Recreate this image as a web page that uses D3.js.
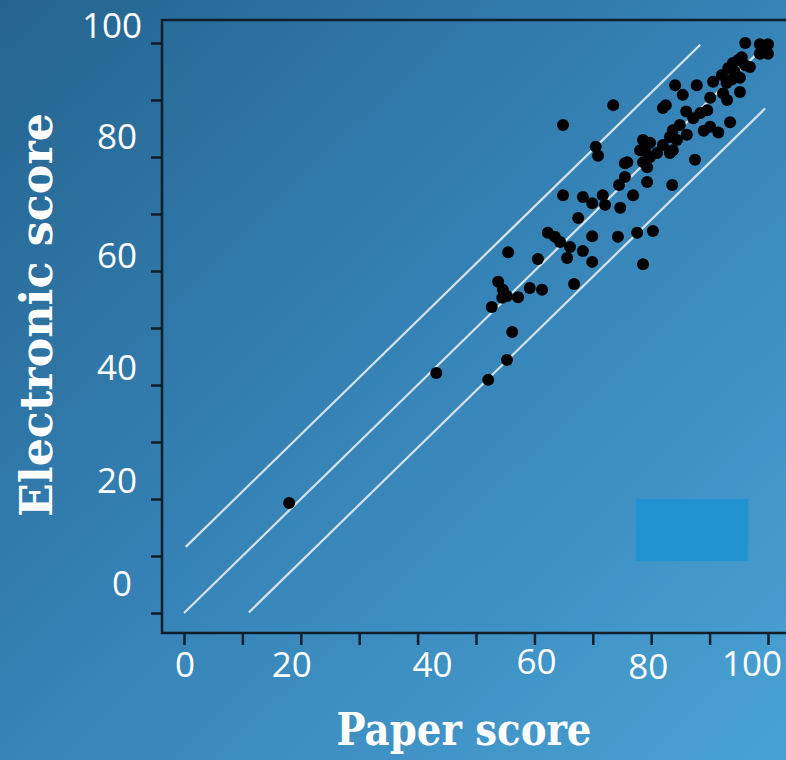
<!DOCTYPE html>
<html>
<head>
<meta charset="utf-8">
<script src="https://cdn.jsdelivr.net/npm/d3@7"></script>
<style>
  html, body { margin: 0; padding: 0; background: #2f78ab; }
  svg { display: block; }
</style>
</head>
<body>
<div id="chart"></div>
<script>
// paper score vs electronic score
const paperScores = [
  18.0, 43.2, 52.1, 55.3, 56.2, 52.7, 53.8, 54.6, 55.3, 54.5,
  57.2, 59.2, 61.3, 55.5, 60.6, 62.3, 63.5, 64.4, 66.1, 65.6,
  68.3, 69.9, 69.9, 66.8, 67.5, 64.9, 68.3, 69.9, 71.7, 72.1,
  74.7, 76.9, 74.5, 75.5, 79.3, 83.6, 75.5, 70.9, 70.5, 74.3,
  77.6, 80.3, 78.6, 64.9, 73.5, 78.1, 78.6, 75.9, 79.3, 79.0,
  79.8, 81.0, 78.6, 79.8, 82.0, 83.2, 84.4, 86.1, 83.7, 83.2,
  87.5, 84.9, 83.7, 87.2, 88.4, 89.6, 90.1, 93.5, 82.0, 82.5,
  84.1, 85.4, 87.8, 90.6, 90.1, 92.3, 93.0, 95.2, 92.1, 93.2,
  94.0, 94.9, 95.5, 96.1, 94.3, 95.2, 96.9, 96.1, 98.6, 100.0,
  98.6, 100.0, 99.3, 89.0, 91.5, 86.0, 93.8, 92.9, 99.6, 98.9
];
const electronicScores = [
  19.3, 42.1, 40.9, 44.4, 49.3, 53.7, 58.1, 56.7, 55.6, 55.3,
  55.4, 57.0, 56.7, 63.3, 62.1, 66.7, 66.0, 65.1, 64.2, 62.3,
  63.5, 61.6, 66.1, 57.7, 69.3, 73.3, 73.0, 71.9, 73.3, 71.6,
  71.1, 73.3, 75.1, 76.5, 75.6, 75.1, 78.9, 80.2, 81.8, 66.0,
  66.7, 67.0, 61.2, 85.6, 89.1, 81.2, 79.1, 79.1, 78.2, 81.0,
  80.0, 80.7, 83.0, 82.5, 82.1, 83.5, 83.0, 83.9, 81.2, 80.7,
  79.5, 85.6, 84.7, 86.8, 87.7, 88.2, 85.3, 86.1, 88.6, 89.1,
  92.6, 90.9, 92.6, 93.2, 90.4, 91.2, 90.0, 91.4, 94.4, 95.6,
  96.5, 97.0, 97.5, 96.1, 94.9, 93.9, 95.8, 100.0, 99.8, 99.8,
  98.1, 98.1, 98.9, 84.6, 84.3, 88.0, 93.6, 93.0, 99.2, 98.6
];
// agreement lines: y = x + offset, drawn between two paper scores
const refOffsets = [11.3, 0, -11];
const refStarts = [0.3, 0, 11.1];
const refEnds = [88.4, 100, 99.5];

const xTicks = d3.range(0, 101, 10);
const yTicks = d3.range(0, 101, 10);
const xLabels = [0, 20, 40, 60, 80, 100];
const yLabels = [0, 20, 40, 60, 80, 100];

// leftover blue box in the lower right (in data units)
const boxX = [77.4, 96.6];
const boxY = [9.1, 20];

function drawChart() {
  const W = 786, H = 760;
  const frame = { left: 162, top: 20, bottom: 633, right: 786 };

  const svg = d3
    .select("#chart")
    .append("svg")
    .attr("width", W)
    .attr("height", H);

  const defs = svg.append("defs");
  const grad = defs
    .append("linearGradient")
    .attr("id", "bg")
    .attr("x1", "0%").attr("y1", "0%")
    .attr("x2", "100%").attr("y2", "100%");
  grad.append("stop").attr("offset", "0%").attr("stop-color", "#25648f");
  grad.append("stop").attr("offset", "50%").attr("stop-color", "#3683b7");
  grad.append("stop").attr("offset", "100%").attr("stop-color", "#4aa2d4");

  svg.append("rect").attr("width", W).attr("height", H).attr("fill", "url(#bg)");

  const x = d3.scaleLinear([0, 100], [184, 768]);
  const y = d3.scaleLinear([0, 100], [613, 43]);

  // blue box
  svg
    .append("rect")
    .attr("x", x(boxX[0]))
    .attr("y", y(boxY[1]))
    .attr("width", x(boxX[1]) - x(boxX[0]))
    .attr("height", y(boxY[0]) - y(boxY[1]))
    .attr("fill", "#2193d0");

  // axes (ticks only, frame drawn below)
  const axisColor = "#0f1e2a";
  const gx = svg
    .append("g")
    .attr("transform", `translate(0,${frame.bottom})`)
    .call(d3.axisBottom(x).tickValues(xTicks).tickSize(12).tickFormat(""));
  const gy = svg
    .append("g")
    .attr("transform", `translate(${frame.left},0)`)
    .call(d3.axisLeft(y).tickValues(yTicks).tickSize(11).tickFormat(""));
  [gx, gy].forEach((g) => {
    g.select(".domain").remove();
    g.selectAll(".tick line").attr("stroke", axisColor).attr("stroke-width", 2.5);
  });

  svg
    .append("path")
    .attr(
      "d",
      `M${frame.right},${frame.top}H${frame.left}V${frame.bottom}H${frame.right}`
    )
    .attr("fill", "none")
    .attr("stroke", axisColor)
    .attr("stroke-width", 2.5);

  // tick labels, nudged like the original slide
  const yNudge = { 0: -30, 20: -19, 40: -18, 60: -16, 80: -21, 100: -18 };
  const yNudgeX = { 0: -5, 20: 0, 40: 0, 60: 0, 80: 0, 100: 5 };
  svg
    .append("g")
    .selectAll("text")
    .data(yLabels)
    .join("text")
    .attr("x", (d) => 137 + yNudgeX[d])
    .attr("y", (d) => y(d) + yNudge[d])
    .attr("dy", "0.36em")
    .attr("text-anchor", "end")
    .attr("fill", "#fff")
    .style("font-family", "'Open Sans', sans-serif")
    .style("font-size", "35px")
    .text((d) => d);

  const xNudge = { 0: 1, 20: -9, 40: 15, 60: 2, 80: -3, 100: -16 };
  const xBase = { 0: 677, 20: 677, 40: 677, 60: 674, 80: 679, 100: 676 };
  svg
    .append("g")
    .selectAll("text")
    .data(xLabels)
    .join("text")
    .attr("x", (d) => x(d) + xNudge[d])
    .attr("y", (d) => xBase[d])
    .attr("text-anchor", "middle")
    .attr("fill", "#fff")
    .style("font-family", "'Open Sans', sans-serif")
    .style("font-size", "35px")
    .text((d) => d);

  // reference lines
  const line = d3.line().x((d) => x(d[0])).y((d) => y(d[1]));
  svg
    .append("g")
    .selectAll("path")
    .data(refOffsets.map((o, i) => [
      [refStarts[i], refStarts[i] + o],
      [refEnds[i], refEnds[i] + o],
    ]))
    .join("path")
    .attr("d", line)
    .attr("fill", "none")
    .attr("stroke", "#d6e3ea")
    .attr("stroke-width", 2.2);

  // points
  const pts = paperScores.map((p, i) => [p, electronicScores[i]]);
  svg
    .append("g")
    .selectAll("circle")
    .data(pts)
    .join("circle")
    .attr("cx", (d) => x(d[0]))
    .attr("cy", (d) => y(d[1]))
    .attr("r", 6)
    .attr("fill", "#000");

  // axis titles
  svg
    .append("text")
    .attr("transform", "translate(52,315) rotate(-90)")
    .attr("text-anchor", "middle")
    .attr("fill", "#fff")
    .attr("textLength", 404)
    .attr("lengthAdjust", "spacingAndGlyphs")
    .style("font-family", "'DejaVu Serif', serif")
    .style("font-weight", "bold")
    .style("font-size", "44px")
    .text("Electronic score");

  svg
    .append("text")
    .attr("x", 464)
    .attr("y", 745)
    .attr("text-anchor", "middle")
    .attr("fill", "#fff")
    .attr("textLength", 255)
    .attr("lengthAdjust", "spacingAndGlyphs")
    .style("font-family", "'DejaVu Serif', serif")
    .style("font-weight", "bold")
    .style("font-size", "44px")
    .text("Paper score");
}

window.addEventListener("load", drawChart);
</script>
</body>
</html>
